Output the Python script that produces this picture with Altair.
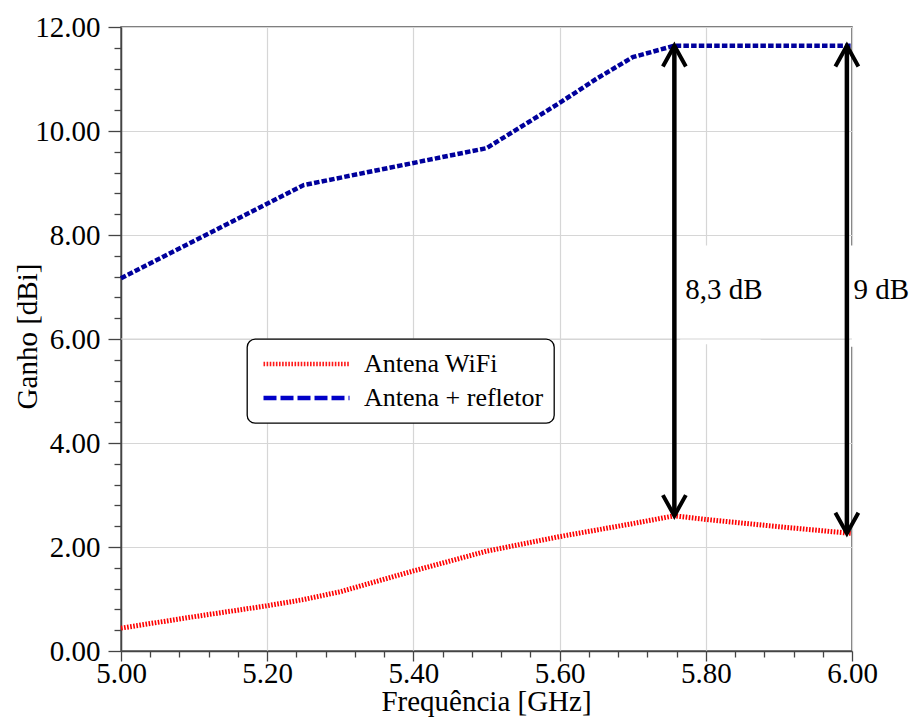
import altair as alt
import pandas as pd

# ---- data ----
series_names = ["Antena WiFi", "Antena + refletor"]

freq_wifi = [5.00, 5.10, 5.20, 5.25, 5.30, 5.40, 5.50, 5.60, 5.70, 5.757, 5.80, 5.90, 6.00]
gain_wifi = [0.44, 0.66, 0.87, 0.99, 1.14, 1.54, 1.92, 2.20, 2.45, 2.60, 2.53, 2.39, 2.26]

freq_refl = [5.00, 5.25, 5.50, 5.60, 5.65, 5.70, 5.757, 6.00]
gain_refl = [7.17, 8.96, 9.67, 10.54, 11.00, 11.42, 11.64, 11.64]

arrow_freq = [5.757, 5.993]
arrow_top = [11.64, 11.64]
arrow_bottom = [2.60, 2.26]

arrow_labels = ["8,3 dB", "9 dB"]
label_freq = [5.772, 6.002]
label_gain = [6.94, 6.94]

# white boxes behind the annotation texts
box_x = [5.765, 5.997]
box_x2 = [5.875, 6.09]
box_y = [5.90, 5.85]
box_y2 = [7.80, 7.80]

x_major = [5.00, 5.20, 5.40, 5.60, 5.80, 6.00]
x_ticks = [round(5.0 + 0.04 * i, 2) for i in range(26)]
y_major = [0, 2, 4, 6, 8, 10, 12]
y_ticks = [round(0.4 * i, 1) for i in range(31)]

FONT = "Liberation Serif"
FS = 29
is_major_x = "abs(datum.value*5 - round(datum.value*5)) < 0.001"
is_major_y = "abs(datum.value/2 - round(datum.value/2)) < 0.001"

df_wifi = pd.DataFrame({"freq": freq_wifi, "gain": gain_wifi, "serie": series_names[0]})
df_refl = pd.DataFrame({"freq": freq_refl, "gain": gain_refl, "serie": series_names[1]})
df_all = pd.concat([df_wifi, df_refl], ignore_index=True)

df_arrows = pd.DataFrame({"freq": arrow_freq, "top": arrow_top, "bottom": arrow_bottom})
df_labels = pd.DataFrame({"freq": label_freq, "gain": label_gain, "txt": arrow_labels})
df_boxes = pd.DataFrame({"x": box_x, "x2": box_x2, "y": box_y, "y2": box_y2})
df_grid6 = pd.DataFrame({"g": [6.0], "a": [5.0], "b": [6.0]})

x_axis = alt.Axis(
    title="Frequência [GHz]",
    values=x_ticks,
    labelExpr=f"{is_major_x} ? format(datum.value, '.2f') : ''",
    tickSize={"condition": {"test": is_major_x, "value": 10}, "value": 6},
    gridOpacity={"condition": {"test": is_major_x, "value": 1}, "value": 0},
    labelOverlap=False,
    labelFlush=False,
    labelBound=False,
    labelBaseline="alphabetic",
    labelPadding=21,
    labelFont=FONT, labelFontSize=FS,
    titleX=365,
    titleY=59,
    titleBaseline="alphabetic",
    titleAlign="center",
)
y_axis = alt.Axis(
    title="Ganho [dBi]",
    values=y_ticks,
    labelExpr=f"{is_major_y} ? format(datum.value, '.2f') : ''",
    tickSize={"condition": {"test": is_major_y, "value": 13}, "value": 7},
    gridOpacity={"condition": {"test": is_major_y, "value": 1}, "value": 0},
    labelOverlap=False,
    labelFlush=False,
    labelBound=False,
    labelPadding=8,
    labelBaseline="middle",
    labelFont=FONT, labelFontSize=FS,
    titleAngle=-90,
    titleX=-94,
    titleY=309,
    titleBaseline="middle",
    titleAlign="center",
)

xs = alt.Scale(domain=[5.0, 6.0], nice=False, zero=False)
ys = alt.Scale(domain=[0, 12], nice=False, zero=False)


def X(field):
    return alt.X(field, scale=xs, axis=x_axis)


def Y(field):
    return alt.Y(field, scale=ys, axis=y_axis)


boxes = alt.Chart(df_boxes).mark_rect(color="white", clip=False).encode(
    x=X("x:Q"), x2="x2:Q", y=Y("y:Q"), y2="y2:Q",
)

grid6 = alt.Chart(df_grid6).mark_rule(color="#d6d6d6", strokeWidth=1.2).encode(
    x=X("a:Q"), x2="b:Q", y=Y("g:Q")
)

line_refl = alt.Chart(df_refl).mark_line(
    color="#00009c", strokeWidth=4.5, strokeDash=[5.5, 2.2], strokeCap="butt"
).encode(x=X("freq:Q"), y=Y("gain:Q"))

line_wifi = alt.Chart(df_wifi).mark_line(
    color="#ff0000", strokeWidth=5, strokeDash=[1.6, 1.5], strokeCap="butt"
).encode(x=X("freq:Q"), y=Y("gain:Q"))

shafts = alt.Chart(df_arrows).mark_rule(color="black", strokeWidth=4.5).encode(
    x=X("freq:Q"), y=Y("top:Q"), y2="bottom:Q"
)

up_path = "M-1,1.8L0,0L1,1.8"
down_path = "M-1,-1.8L0,0L1,-1.8"
heads_up = alt.Chart(df_arrows).mark_point(
    shape=up_path, size=529, filled=False, stroke="black", strokeWidth=4, opacity=1
).encode(x=X("freq:Q"), y=Y("top:Q"))
heads_down = alt.Chart(df_arrows).mark_point(
    shape=down_path, size=529, filled=False, stroke="black", strokeWidth=4, opacity=1
).encode(x=X("freq:Q"), y=Y("bottom:Q"))

labels = alt.Chart(df_labels).mark_text(
    align="left", baseline="middle", font=FONT, fontSize=FS, color="black", clip=False
).encode(x=X("freq:Q"), y=Y("gain:Q"), text="txt:N")

leg = alt.Legend(
    title=None, orient="none", legendX=126, legendY=312,
    symbolType="stroke", symbolSize=7396, symbolStrokeWidth=4.5, symbolOffset=4,
    clipHeight=30,
    labelFont=FONT, labelFontSize=26, labelColor="black", labelOffset=12, labelLimit=400,
    padding=10, rowPadding=4, fillColor="white", strokeColor="black",
    cornerRadius=8,
)
legend_layer = alt.Chart(df_all).transform_filter("false").mark_line(strokeWidth=4.5).encode(
    x=X("freq:Q"), y=Y("gain:Q"),
    color=alt.Color("serie:N", scale=alt.Scale(domain=series_names, range=["#ff1a1a", "#0000c8"]), legend=leg),
    strokeDash=alt.StrokeDash("serie:N", scale=alt.Scale(domain=series_names, range=[[1.6, 1.5], [13, 4]]), legend=leg),
)

chart = alt.layer(
    boxes, grid6, line_refl, line_wifi, shafts, heads_up, heads_down, labels, legend_layer
).properties(
    width=731, height=624,
    padding={"left": 121, "top": 27, "right": 63, "bottom": 66},
    autosize=alt.AutoSizeParams(type="none"),
).configure_view(
    stroke="#555555", strokeWidth=1.5
).configure_axis(
    labelFont=FONT, labelFontSize=FS, labelColor="black", labelOverlap=False,
    titleFont=FONT, titleFontSize=FS, titleFontWeight="normal", titleColor="black",
    domainColor="#444444", domainWidth=1.5, tickColor="#444444", tickWidth=1.3,
    gridColor="#d6d6d6", gridWidth=1.2,
).configure_legend(strokeWidth=1.3)

chart.save("out.html", embed_options={"renderer": "svg", "actions": False})
